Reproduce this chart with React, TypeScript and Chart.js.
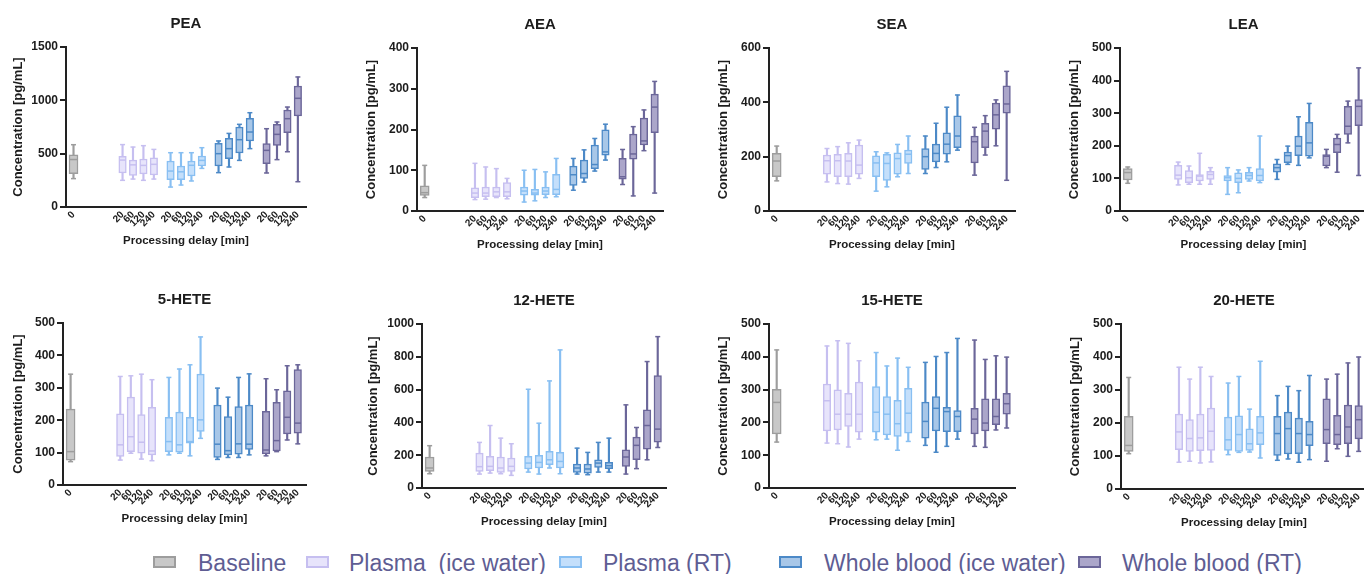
import React, { useEffect, useRef } from 'react';
import { Chart, registerables } from 'chart.js';

Chart.register(...registerables);
Chart.defaults.font.family = "'Liberation Sans', Arial, Helvetica, sans-serif";

// ---- categories ----
const groupNames = ['Baseline', 'Plasma  (ice water)', 'Plasma (RT)', 'Whole blood (ice water)', 'Whole blood (RT)'];
const baselineDelay = ['0'];
const delays = ['20', '60', '120', '240'];
const yTitle = 'Concentration [pg/mL]';
const xTitle = 'Processing delay [min]';

// ---- colours per group ----
const fills = ['#c8c8c8', '#e7e4fb', '#c4dffb', '#a8c7e8', '#aba6ca'];
const borders = ['#9d9d9d', '#c6bff0', '#88bff2', '#4c89c7', '#6b6699'];

// ---- values: each row = [min, q1, median, q3, max]; row 0 baseline, then 4 groups x 4 delays ----
const PEA = [
  [266, 312, 445, 490, 584],
  [250, 319, 440, 475, 585], [262, 295, 395, 440, 562], [250, 310, 390, 450, 575], [262, 300, 400, 460, 540],
  [187, 256, 337, 431, 509], [206, 256, 330, 384, 509], [244, 291, 391, 431, 509], [362, 384, 437, 478, 556],
  [322, 384, 500, 597, 619], [375, 453, 547, 644, 690], [437, 506, 631, 750, 775], [547, 619, 703, 831, 884],
  [319, 406, 531, 594, 734], [444, 578, 681, 775, 797], [518, 697, 828, 909, 937], [237, 853, 1019, 1134, 1219],
];
const AEA = [
  [33, 38, 45, 62, 112],
  [28, 33, 44, 57, 117], [29, 35, 44, 59, 108], [33, 35, 47, 59, 104], [30, 35, 47, 70, 80],
  [22, 39, 49, 59, 100], [25, 39, 44, 53, 102], [33, 40, 49, 59, 96], [35, 40, 53, 90, 129],
  [51, 63, 89, 110, 129], [71, 80, 92, 125, 150], [98, 104, 114, 162, 178], [125, 137, 145, 199, 213],
  [65, 78, 84, 129, 151], [37, 127, 140, 189, 207], [148, 162, 172, 228, 248], [44, 192, 255, 287, 318],
];
const SEA = [
  [111, 126, 184, 212, 239],
  [107, 136, 185, 206, 230], [101, 126, 185, 209, 237], [99, 126, 184, 212, 251], [120, 136, 169, 243, 261],
  [73, 126, 177, 203, 218], [89, 113, 175, 209, 214], [126, 136, 193, 214, 245], [138, 175, 209, 224, 276],
  [138, 153, 200, 230, 276], [160, 181, 212, 246, 323], [181, 209, 246, 288, 382], [224, 233, 276, 350, 427],
  [132, 177, 255, 276, 308], [206, 233, 294, 323, 351], [240, 301, 354, 397, 409], [113, 360, 394, 461, 514],
];
const LEA = [
  [85, 95, 118, 130, 135],
  [80, 97, 110, 140, 150], [82, 87, 102, 124, 138], [82, 92, 107, 112, 177], [82, 97, 112, 122, 133],
  [51, 92, 102, 109, 133], [56, 87, 100, 117, 126], [92, 97, 109, 119, 133], [87, 92, 109, 130, 230],
  [97, 119, 133, 145, 158], [143, 148, 170, 181, 199], [140, 170, 199, 230, 289], [163, 168, 209, 272, 330],
  [133, 138, 168, 173, 189], [119, 179, 204, 224, 235], [209, 235, 260, 321, 337], [109, 262, 321, 342, 439],
];
const HETE5 = [
  [72, 77, 103, 234, 342],
  [77, 88, 124, 220, 335], [98, 103, 149, 271, 337], [80, 98, 132, 217, 342], [75, 93, 105, 240, 325],
  [93, 103, 134, 209, 332], [98, 101, 124, 225, 358], [90, 129, 134, 209, 371], [144, 165, 201, 342, 457],
  [79, 85, 126, 247, 299], [85, 93, 106, 211, 271], [85, 95, 127, 242, 332], [93, 110, 126, 247, 343],
  [90, 96, 108, 227, 328], [103, 105, 137, 255, 294], [139, 158, 209, 291, 368], [127, 160, 191, 356, 371],
];
const HETE12 = [
  [87, 101, 122, 189, 258],
  [85, 101, 130, 213, 278], [91, 105, 132, 193, 381], [87, 95, 122, 189, 304], [77, 101, 132, 183, 270],
  [97, 116, 152, 193, 602], [85, 122, 156, 199, 395], [122, 142, 172, 223, 653], [87, 122, 162, 217, 842],
  [85, 95, 122, 146, 243], [81, 91, 116, 146, 217], [97, 126, 152, 172, 278], [97, 118, 136, 156, 304],
  [85, 132, 189, 233, 507], [118, 172, 260, 310, 369], [172, 237, 381, 477, 771], [247, 280, 359, 685, 923],
];
const HETE15 = [
  [140, 165, 261, 301, 421],
  [137, 174, 266, 317, 433], [135, 177, 225, 299, 449], [125, 188, 225, 289, 441], [149, 170, 225, 323, 388],
  [147, 170, 231, 309, 413], [149, 162, 225, 279, 372], [115, 157, 196, 267, 396], [142, 167, 228, 304, 368],
  [130, 152, 203, 262, 383], [109, 174, 243, 279, 401], [127, 172, 233, 246, 413], [149, 172, 218, 236, 456],
  [127, 165, 210, 243, 451], [124, 174, 198, 272, 392], [177, 193, 218, 272, 403], [183, 225, 257, 289, 399],
];
const HETE20 = [
  [107, 114, 132, 220, 338],
  [81, 119, 173, 227, 369], [84, 114, 153, 210, 333], [79, 116, 155, 227, 369], [82, 117, 175, 245, 341],
  [104, 117, 149, 218, 321], [111, 114, 165, 222, 341], [112, 117, 137, 182, 242], [94, 134, 170, 220, 387],
  [87, 102, 168, 220, 283], [91, 106, 183, 233, 311], [81, 107, 168, 215, 298], [89, 131, 165, 205, 344],
  [84, 137, 180, 273, 333], [122, 134, 165, 223, 348], [99, 137, 188, 254, 382], [114, 152, 210, 253, 400],
];

// ---- layout (pixels / slot units) ----
const YW = 60;   // y-axis box width
const TH = 39;   // title box height (6.5 + 18 + 14.5)
const XH = 43;   // x-axis box height
const RP = 12;   // right padding
const FIRST = 4.7, PITCH = 4.6, XMIN = -0.72, XMAX = 22.28;

function slotPositions(): number[][] {
  const out: number[][] = [[0]];
  for (let g = 0; g < 4; g++) out.push(delays.map((_, i) => FIRST + g * PITCH + i));
  return out;
}

type Panel = {
  title: string; rows: number[][]; yMax: number; step: number;
  area: [number, number, number, number]; ytOff: number;
};

const panels: Panel[] = [
  { title: 'PEA', rows: PEA, yMax: 1500, step: 500, area: [66, 306, 47, 207], ytOff: 48 },
  { title: 'AEA', rows: AEA, yMax: 400, step: 100, area: [417, 663, 48, 211], ytOff: 46 },
  { title: 'SEA', rows: SEA, yMax: 600, step: 200, area: [769, 1015, 48, 211], ytOff: 46 },
  { title: 'LEA', rows: LEA, yMax: 500, step: 100, area: [1120, 1367, 48, 211], ytOff: 46 },
  { title: '5-HETE', rows: HETE5, yMax: 500, step: 100, area: [63, 306, 323, 485], ytOff: 45 },
  { title: '12-HETE', rows: HETE12, yMax: 1000, step: 200, area: [422, 666, 324, 488], ytOff: 49 },
  { title: '15-HETE', rows: HETE15, yMax: 500, step: 100, area: [769, 1015, 324, 488], ytOff: 46 },
  { title: '20-HETE', rows: HETE20, yMax: 500, step: 100, area: [1121, 1367, 324, 489], ytOff: 46 },
];

const TEXT = '#1c1c1c';

function buildConfig(p: Panel): any {
  const pos = slotPositions();
  const tickPos = pos.flat();
  const tickLabels = [...baselineDelay, ...delays, ...delays, ...delays, ...delays];
  const datasets: any[] = [];
  let r = 0;
  pos.forEach((xs, g) => {
    const rows = xs.map(() => p.rows[r++]);
    const w = g === 0 ? 9 : 7.5;
    datasets.push({
      type: 'scatter', order: 0,
      data: xs.map((x, k) => ({ x, y: rows[k][2] })),
      pointStyle: 'line', pointRadius: w / 2 - 0.5, pointHoverRadius: w / 2 - 0.5,
      borderColor: borders[g], backgroundColor: borders[g], borderWidth: 1.5,
    });
    datasets.push({
      type: 'bar', order: 1, grouped: false,
      data: xs.map((x, k) => ({ x, y: [rows[k][1], rows[k][3]] })),
      backgroundColor: fills[g], borderColor: borders[g], borderWidth: 1.5, borderSkipped: false,
      barThickness: w,
    });
    const caps: any[] = [];
    xs.forEach((x, k) => { caps.push({ x, y: rows[k][0] }); caps.push({ x, y: rows[k][4] }); });
    datasets.push({
      type: 'scatter', order: 2, data: caps,
      pointStyle: 'line', pointRadius: 2.5, pointHoverRadius: 2.5,
      borderColor: borders[g], backgroundColor: borders[g], borderWidth: 1.5,
    });
    datasets.push({
      type: 'bar', order: 3, grouped: false,
      data: xs.map((x, k) => ({ x, y: [rows[k][0], rows[k][4]] })),
      backgroundColor: borders[g], borderWidth: 0, barThickness: 1.5,
    });
  });

  return {
    type: 'bar',
    data: { datasets },
    options: {
      animation: false, responsive: false, maintainAspectRatio: false, events: [],
      layout: { padding: { left: 0, right: RP, top: 0, bottom: 0 } },
      plugins: {
        legend: { display: false }, tooltip: { enabled: false },
        title: {
          display: true, text: p.title, fullSize: false, color: TEXT,
          font: { size: 15, weight: 'bold' }, padding: { top: 6.5, bottom: 14.5 },
        },
      },
      scales: {
        x: {
          type: 'linear', min: XMIN, max: XMAX, offset: false,
          afterBuildTicks: (s: any) => { s.ticks = tickPos.map((v) => ({ value: v })); },
          afterFit: (s: any) => { s.height = XH; },
          ticks: {
            autoSkip: false, minRotation: 45, maxRotation: 45, padding: 2, color: TEXT,
            font: { size: 10, weight: 'bold' },
            callback: (_v: any, i: number) => tickLabels[i],
          },
          grid: { display: false, drawTicks: false },
          border: { display: true, color: '#222', width: 2 },
          title: {
            display: true, text: xTitle, color: TEXT,
            font: { size: 11.5, weight: 'bold' }, padding: { top: 0, bottom: 2 },
          },
        },
        y: {
          min: 0, max: p.yMax,
          afterFit: (s: any) => { s.width = YW; },
          ticks: {
            stepSize: p.step, padding: 2, color: TEXT, font: { size: 12, weight: 'bold' },
            callback: (v: any) => String(v),
          },
          grid: { display: true, drawOnChartArea: false, drawTicks: true, tickLength: 6, color: '#222', lineWidth: 2 },
          border: { display: true, color: '#222', width: 2 },
          title: {
            display: true, text: yTitle, color: TEXT,
            font: { size: 13, weight: 'bold' }, padding: { top: YW - p.ytOff - 7.8, bottom: 0 },
          },
        },
      },
    },
  };
}

function PanelChart({ p }: { p: Panel }) {
  const ref = useRef<HTMLCanvasElement>(null);
  const [L, R, T, B] = p.area;
  const left = L - YW, top = T - TH;
  const w = YW + (R - L) + RP, h = TH + (B - T) + XH;
  useEffect(() => {
    if (!ref.current) return;
    const chart = new Chart(ref.current, buildConfig(p));
    return () => chart.destroy();
  }, []);
  return (
    <canvas ref={ref} width={w} height={h}
      style={{ position: 'absolute', left, top, width: w, height: h }} />
  );
}

const legendSwatchX = [153, 306, 559, 779, 1078];
const legendTextX = [198, 349, 603, 824, 1122];

export default function App() {
  return (
    <div style={{ position: 'absolute', left: 0, top: 0, width: 1364, height: 574, overflow: 'hidden', background: '#fff' }}>
      {panels.map((p) => <PanelChart key={p.title} p={p} />)}
      {groupNames.map((name, i) => (
        <React.Fragment key={name}>
          <div style={{
            position: 'absolute', left: legendSwatchX[i], top: 556, width: 23, height: 12,
            background: fills[i], border: `2px solid ${borders[i]}`, boxSizing: 'border-box',
          }} />
          <div style={{
            position: 'absolute', left: legendTextX[i], top: 549, height: 28, lineHeight: '28px',
            fontFamily: "'Liberation Sans', Arial, sans-serif", fontSize: 23, color: '#5e5d93', whiteSpace: 'pre',
          }}>{name}</div>
        </React.Fragment>
      ))}
    </div>
  );
}
